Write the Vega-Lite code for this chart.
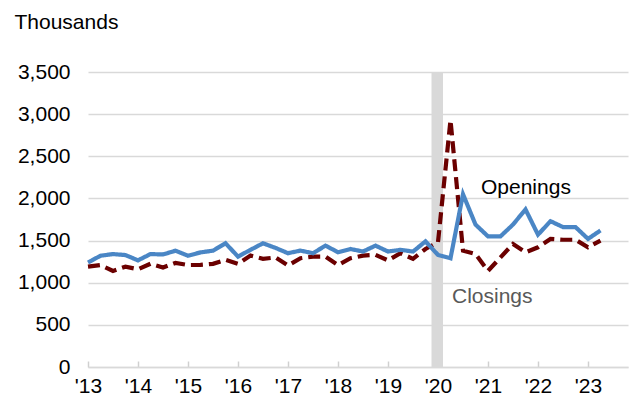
{
  "$schema": "https://vega.github.io/schema/vega-lite/v6.json",
  "width": 540,
  "height": 295,
  "autosize": {"type": "none"},
  "padding": {"left": 88, "top": 72, "right": 5, "bottom": 35},
  "background": "white",
  "config": {
    "view": {"stroke": null},
    "font": "Liberation Sans",
    "axis": {"labelFont": "Liberation Sans", "titleFont": "Liberation Sans"}
  },
  "datasets": {
    "flows": [
      {"t": 2013.00, "Openings": 1240, "Closings": 1190},
      {"t": 2013.25, "Openings": 1320, "Closings": 1210},
      {"t": 2013.50, "Openings": 1340, "Closings": 1140},
      {"t": 2013.75, "Openings": 1328, "Closings": 1190},
      {"t": 2014.00, "Openings": 1265, "Closings": 1160},
      {"t": 2014.25, "Openings": 1340, "Closings": 1225},
      {"t": 2014.50, "Openings": 1335, "Closings": 1180},
      {"t": 2014.75, "Openings": 1380, "Closings": 1235},
      {"t": 2015.00, "Openings": 1320, "Closings": 1210},
      {"t": 2015.25, "Openings": 1360, "Closings": 1212},
      {"t": 2015.50, "Openings": 1380, "Closings": 1224},
      {"t": 2015.75, "Openings": 1468, "Closings": 1271},
      {"t": 2016.00, "Openings": 1310, "Closings": 1224},
      {"t": 2016.25, "Openings": 1390, "Closings": 1322},
      {"t": 2016.50, "Openings": 1468, "Closings": 1283},
      {"t": 2016.75, "Openings": 1413, "Closings": 1300},
      {"t": 2017.00, "Openings": 1350, "Closings": 1204},
      {"t": 2017.25, "Openings": 1381, "Closings": 1290},
      {"t": 2017.50, "Openings": 1350, "Closings": 1310},
      {"t": 2017.75, "Openings": 1440, "Closings": 1310},
      {"t": 2018.00, "Openings": 1362, "Closings": 1210},
      {"t": 2018.25, "Openings": 1400, "Closings": 1290},
      {"t": 2018.50, "Openings": 1370, "Closings": 1322},
      {"t": 2018.75, "Openings": 1440, "Closings": 1330},
      {"t": 2019.00, "Openings": 1370, "Closings": 1265},
      {"t": 2019.25, "Openings": 1390, "Closings": 1350},
      {"t": 2019.50, "Openings": 1370, "Closings": 1283},
      {"t": 2019.75, "Openings": 1490, "Closings": 1400},
      {"t": 2020.00, "Openings": 1330, "Closings": 1480},
      {"t": 2020.25, "Openings": 1290, "Closings": 2930},
      {"t": 2020.50, "Openings": 2050, "Closings": 1380},
      {"t": 2020.75, "Openings": 1690, "Closings": 1340},
      {"t": 2021.00, "Openings": 1550, "Closings": 1140},
      {"t": 2021.25, "Openings": 1550, "Closings": 1300},
      {"t": 2021.50, "Openings": 1690, "Closings": 1460},
      {"t": 2021.75, "Openings": 1870, "Closings": 1360},
      {"t": 2022.00, "Openings": 1570, "Closings": 1420},
      {"t": 2022.25, "Openings": 1730, "Closings": 1520},
      {"t": 2022.50, "Openings": 1660, "Closings": 1510},
      {"t": 2022.75, "Openings": 1660, "Closings": 1510},
      {"t": 2023.00, "Openings": 1520, "Closings": 1420},
      {"t": 2023.25, "Openings": 1620, "Closings": 1500}
    ],
    "recession": [{"start": 2019.87, "end": 2020.1, "low": 0, "high": 3500}],
    "labels": [
      {"series": "Openings", "t": 2020.86, "v": 2058},
      {"series": "Closings", "t": 2020.28, "v": 756}
    ]
  },
  "layer": [
    {
      "data": {"name": "recession"},
      "mark": {"type": "rect", "color": "#d9d9d9"},
      "encoding": {
        "x": {"field": "start", "type": "quantitative",
          "scale": {"domain": [2013, 2023.8], "nice": false, "zero": false},
          "axis": {
            "values": [2013, 2013.25, 2013.5, 2013.75, 2014, 2014.25, 2014.5, 2014.75, 2015, 2015.25, 2015.5, 2015.75, 2016, 2016.25, 2016.5, 2016.75, 2017, 2017.25, 2017.5, 2017.75, 2018, 2018.25, 2018.5, 2018.75, 2019, 2019.25, 2019.5, 2019.75, 2020, 2020.25, 2020.5, 2020.75, 2021, 2021.25, 2021.5, 2021.75, 2022, 2022.25, 2022.5, 2022.75, 2023, 2023.25, 2023.5, 2023.75],
            "labelExpr": "datum.value % 1 == 0 ? \"'\" + substring(format(datum.value, 'd'), 2) : ''",
            "labelOverlap": false,
            "labelFlush": false,
            "labelFontSize": 21,
            "labelColor": "#000000",
            "labelPadding": 14,
            "grid": false,
            "domainColor": "#d9d9d9",
            "domainWidth": 1.5,
            "tickColor": "#d0d0d0",
            "tickWidth": 1.5,
            "tickSize": -6,
            "title": null
          }
        },
        "x2": {"field": "end"},
        "y": {"field": "low", "type": "quantitative",
          "scale": {"domain": [0, 3500], "nice": false},
          "axis": {
            "values": [0, 500, 1000, 1500, 2000, 2500, 3000, 3500],
            "format": ",d",
            "labelFontSize": 21,
            "labelColor": "#000000",
            "labelPadding": 18,
            "domain": false,
            "ticks": false,
            "grid": true,
            "gridColor": "#d9d9d9",
            "gridWidth": 1.5,
            "title": "Thousands",
            "titleAngle": 0,
            "titleAlign": "left",
            "titleBaseline": "alphabetic",
            "titleX": -74,
            "titleY": -44,
            "titleFontSize": 21,
            "titleFontWeight": "normal",
            "titleColor": "#000000"
          }
        },
        "y2": {"field": "high"}
      }
    },
    {
      "data": {"name": "flows"},
      "transform": [{"fold": ["Closings", "Openings"], "as": ["series", "value"]}],
      "mark": {"type": "line", "strokeWidth": 4.2},
      "encoding": {
        "x": {"field": "t", "type": "quantitative"},
        "y": {"field": "value", "type": "quantitative"},
        "color": {"field": "series", "type": "nominal",
          "scale": {"domain": ["Openings", "Closings"], "range": ["#4a86c5", "#6b0000"]},
          "legend": null},
        "strokeDash": {"field": "series", "type": "nominal",
          "scale": {"domain": ["Openings", "Closings"], "range": [[1, 0], [12, 6]]},
          "legend": null}
      }
    },
    {
      "data": {"name": "labels"},
      "mark": {"type": "text", "align": "left", "baseline": "alphabetic", "fontSize": 21, "font": "Liberation Sans"},
      "encoding": {
        "x": {"field": "t", "type": "quantitative"},
        "y": {"field": "v", "type": "quantitative"},
        "text": {"field": "series"},
        "color": {"field": "series", "type": "nominal",
          "scale": {"domain": ["Openings", "Closings"], "range": ["#000000", "#595959"]},
          "legend": null}
      }
    }
  ],
  "resolve": {"scale": {"color": "independent"}}
}
